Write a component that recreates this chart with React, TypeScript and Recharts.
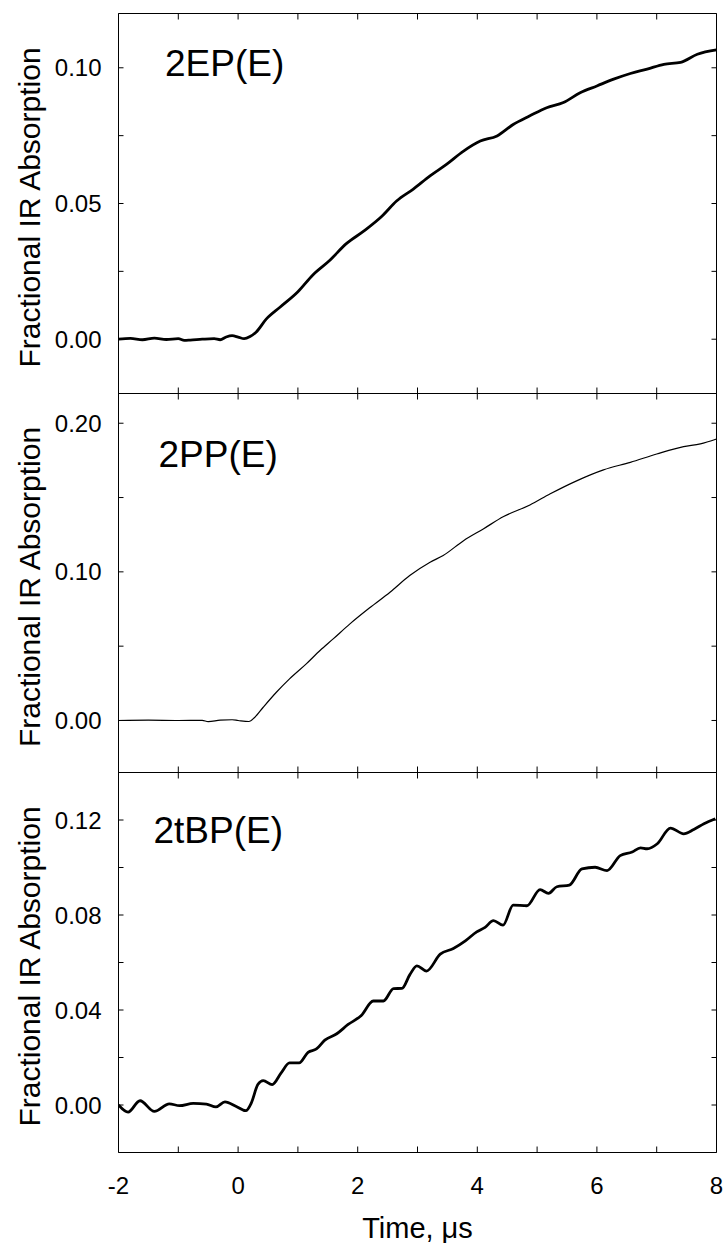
import React from 'react';
import { LineChart, Line, XAxis, YAxis, Customized, Label } from 'recharts';

const FONT = '"Liberation Sans", Arial, Helvetica, sans-serif';

// Shared time axis (µs)
const timeTicks = [-2, -1, 0, 1, 2, 3, 4, 5, 6, 7, 8];
const timeLabels = [-2, 0, 2, 4, 6, 8];

// 2EP(E) transient
const epTime = [
  -2.0, -1.8, -1.6, -1.4, -1.2, -1.0, -0.9, -0.8, -0.6, -0.4, -0.3, -0.2, -0.1, 0.0, 0.1, 0.2,
  0.3, 0.47, 0.7, 1.0, 1.25, 1.53, 1.81, 2.1, 2.4, 2.65, 2.93, 3.21, 3.49, 3.77, 4.05, 4.33,
  4.6, 4.88, 5.16, 5.44, 5.72, 6.0, 6.28, 6.56, 6.84, 7.12, 7.4, 7.68, 8.0,
];
const epAbs = [
  0.0, 0.0003, -0.0002, 0.0004, -0.0001, 0.0002, -0.0004, -0.0003, 0.0, 0.0002, -0.0002, 0.0008,
  0.0013, 0.0008, 0.0002, 0.001, 0.0026, 0.0074, 0.0118, 0.0175, 0.0237, 0.029, 0.0352, 0.0398,
  0.0452, 0.0509, 0.0553, 0.0602, 0.0645, 0.0693, 0.073, 0.0749, 0.0791, 0.0823, 0.0853, 0.0872,
  0.0908, 0.0933, 0.0958, 0.0979, 0.0995, 0.1013, 0.102, 0.105, 0.1066,
];
const epTicks = [0, 0.025, 0.05, 0.075, 0.1];
const epLabels = [0, 0.05, 0.1];

// 2PP(E) transient
const ppTime = [
  -2.0, -1.5, -1.0, -0.6, -0.5, -0.3, -0.1, 0.0, 0.18, 0.28, 0.42, 0.64, 0.86, 1.14, 1.37, 1.59,
  1.87, 2.2, 2.54, 2.87, 3.21, 3.43, 3.77, 4.1, 4.44, 4.88, 5.22, 5.67, 6.11, 6.56, 7.0, 7.45,
  7.73, 8.0,
];
const ppAbs = [
  0.0, 0.0002, 0.0, 0.0001, -0.0008, 0.0002, 0.0005, 0.0, -0.0007, 0.0022, 0.0089, 0.019, 0.028,
  0.0381, 0.0471, 0.0549, 0.065, 0.0758, 0.0863, 0.0975, 0.1065, 0.111, 0.121, 0.1289, 0.1372,
  0.145, 0.1525, 0.1614, 0.1686, 0.1737, 0.1793, 0.1843, 0.1861, 0.1894,
];
const ppTicks = [0, 0.05, 0.1, 0.15, 0.2];
const ppLabels = [0, 0.1, 0.2];

// 2tBP(E) transient
const tbpTime = [
  -2.0, -1.84, -1.64, -1.4, -1.15, -0.98, -0.75, -0.53, -0.37, -0.22, -0.03, 0.13, 0.22, 0.33,
  0.42, 0.57, 0.72, 0.86, 1.02, 1.17, 1.31, 1.45, 1.65, 1.84, 2.06, 2.26, 2.43, 2.6, 2.74, 2.87,
  2.99, 3.15, 3.38, 3.6, 3.8, 3.99, 4.13, 4.27, 4.43, 4.6, 4.83, 5.05, 5.19, 5.33, 5.54, 5.75,
  5.97, 6.17, 6.39, 6.59, 6.73, 6.84, 7.01, 7.23, 7.45, 7.62, 7.79, 7.98,
];
const tbpAbs = [
  0.0, -0.003, 0.0018, -0.0027, 0.0005, -0.0003, 0.0007, 0.0004, -0.0008, 0.0013, -0.0006, -0.0024,
  0.0008, 0.0086, 0.0103, 0.0086, 0.0135, 0.0177, 0.0177, 0.0222, 0.0236, 0.0273, 0.03, 0.0339,
  0.0377, 0.0438, 0.0438, 0.049, 0.0491, 0.0548, 0.0586, 0.0564, 0.0635, 0.0659, 0.0691, 0.0729,
  0.0748, 0.0776, 0.0757, 0.0842, 0.0839, 0.0907, 0.0891, 0.0919, 0.0926, 0.0994, 0.1001, 0.0987,
  0.105, 0.1065, 0.1083, 0.1079, 0.11, 0.1166, 0.1142, 0.116, 0.1184, 0.1205,
];
const tbpTicks = [0, 0.02, 0.04, 0.06, 0.08, 0.1, 0.12];
const tbpLabels = [0, 0.04, 0.08, 0.12];

const zip = (t: number[], v: number[]) => t.map((time, i) => ({ time, value: v[i] }));

const has = (list: number[], v: number) => list.some((u) => Math.abs(u - v) < 1e-9);

// Inward-pointing tick marks drawn on each side of the frame
const leftTick = (labels: number[]) => (p: any) => (
  <g>
    <line x1={p.x} x2={p.x + 5} y1={p.y} y2={p.y} stroke="#000" strokeWidth={1} />
    {has(labels, p.payload.value) && (
      <text x={p.x - 17} y={p.y + 8.5} textAnchor="end" fontSize={24} fontFamily={FONT} fill="#000">
        {p.payload.value.toFixed(2)}
      </text>
    )}
  </g>
);

const rightTick = (p: any) => (
  <line x1={p.x - 5} x2={p.x} y1={p.y} y2={p.y} stroke="#000" strokeWidth={1} />
);

const topTick = (p: any) => (
  <line x1={p.x} x2={p.x} y1={p.y} y2={p.y + 6} stroke="#000" strokeWidth={1} />
);

const bottomTick = (labels: number[]) => (p: any) => (
  <g>
    <line x1={p.x} x2={p.x} y1={p.y - 6} y2={p.y} stroke="#000" strokeWidth={1} />
    {has(labels, p.payload.value) && (
      <text x={p.x} y={p.y + 41} textAnchor="middle" fontSize={24} fontFamily={FONT} fill="#000">
        {String(p.payload.value)}
      </text>
    )}
  </g>
);

const YTitle = (props: any) => {
  const vb = props.viewBox;
  const cx = vb.x + 39.5;
  const cy = vb.y + vb.height / 2 + 4;
  return (
    <text
      x={cx}
      y={cy}
      transform={`rotate(-90, ${cx}, ${cy})`}
      textAnchor="middle"
      fontSize={30}
      fontFamily={FONT}
      fill="#000"
    >
      Fractional IR Absorption
    </text>
  );
};

const XTitle = (props: any) => {
  const vb = props.viewBox;
  return (
    <text
      x={vb.x + vb.width / 2}
      y={vb.y + 85}
      textAnchor="middle"
      fontSize={29}
      fontFamily={FONT}
      fill="#000"
    >
      Time, μs
    </text>
  );
};

type PanelProps = {
  top: number;
  height: number;
  margin: { top: number; right: number; bottom: number; left: number };
  data: { time: number; value: number }[];
  yDomain: [number, number];
  yTicks: number[];
  yLabels: number[];
  tag: string;
  tagX: number;
  tagY: number;
  strokeWidth: number;
  showTimeAxis: boolean;
};

// Each panel: plot box framed by four axes; the hidden-size axes are 1px so they still render.
function Panel(p: PanelProps) {
  const axisLine = { stroke: '#000', strokeWidth: 1 };
  return (
    <div style={{ position: 'absolute', left: 0, top: p.top }}>
      <LineChart width={727} height={p.height} data={p.data} margin={p.margin}>
        <XAxis
          xAxisId="b"
          dataKey="time"
          type="number"
          domain={[-2, 8]}
          ticks={timeTicks}
          interval={0}
          allowDataOverflow
          height={p.showTimeAxis ? 90 : 1}
          axisLine={axisLine}
          tickLine={false}
          tickSize={0}
          tickMargin={0}
          tick={bottomTick(p.showTimeAxis ? timeLabels : [])}
        >
          {p.showTimeAxis && <Label content={XTitle} />}
        </XAxis>
        <XAxis
          xAxisId="t"
          orientation="top"
          dataKey="time"
          type="number"
          domain={[-2, 8]}
          ticks={timeTicks}
          interval={0}
          allowDataOverflow
          height={1}
          axisLine={axisLine}
          tickLine={false}
          tickSize={0}
          tickMargin={0}
          tick={topTick}
        />
        <YAxis
          yAxisId="l"
          type="number"
          domain={p.yDomain}
          ticks={p.yTicks}
          interval={0}
          allowDataOverflow
          width={118.5}
          axisLine={axisLine}
          tickLine={false}
          tickSize={0}
          tickMargin={0}
          tick={leftTick(p.yLabels)}
        >
          <Label content={YTitle} />
        </YAxis>
        <YAxis
          yAxisId="r"
          orientation="right"
          type="number"
          domain={p.yDomain}
          ticks={p.yTicks}
          interval={0}
          allowDataOverflow
          width={1}
          axisLine={axisLine}
          tickLine={false}
          tickSize={0}
          tickMargin={0}
          tick={rightTick}
        />
        <Line
          xAxisId="b"
          yAxisId="l"
          type="monotone"
          dataKey="value"
          stroke="#000"
          strokeWidth={p.strokeWidth}
          dot={false}
          activeDot={false}
          isAnimationActive={false}
        />
        <Customized
          component={() => (
            <text x={p.tagX} y={p.tagY} fontSize={37} fontFamily={FONT} fill="#000">
              {p.tag}
            </text>
          )}
        />
      </LineChart>
    </div>
  );
}

export default function App() {
  return (
    <div
      style={{
        position: 'absolute',
        left: 0,
        top: 0,
        width: 727,
        height: 1243,
        background: '#fff',
        overflow: 'hidden',
      }}
    >
      <Panel
        top={0}
        height={400}
        margin={{ top: 12.5, right: 9.5, bottom: 5.5, left: 0 }}
        data={zip(epTime, epAbs)}
        yDomain={[-0.02, 0.12]}
        yTicks={epTicks}
        yLabels={epLabels}
        tag="2EP(E)"
        tagX={165}
        tagY={76}
        strokeWidth={2.8}
        showTimeAxis={false}
      />
      <Panel
        top={386}
        height={400}
        margin={{ top: 6.5, right: 9.5, bottom: 12.5, left: 0 }}
        data={zip(ppTime, ppAbs)}
        yDomain={[-0.035, 0.22]}
        yTicks={ppTicks}
        yLabels={ppLabels}
        tag="2PP(E)"
        tagX={158.5}
        tagY={81}
        strokeWidth={1.2}
        showTimeAxis={false}
      />
      <Panel
        top={765}
        height={478}
        margin={{ top: 6.5, right: 9.5, bottom: 0.5, left: 0 }}
        data={zip(tbpTime, tbpAbs)}
        yDomain={[-0.02, 0.14]}
        yTicks={tbpTicks}
        yLabels={tbpLabels}
        tag="2tBP(E)"
        tagX={153.5}
        tagY={77.7}
        strokeWidth={2.8}
        showTimeAxis={true}
      />
    </div>
  );
}
